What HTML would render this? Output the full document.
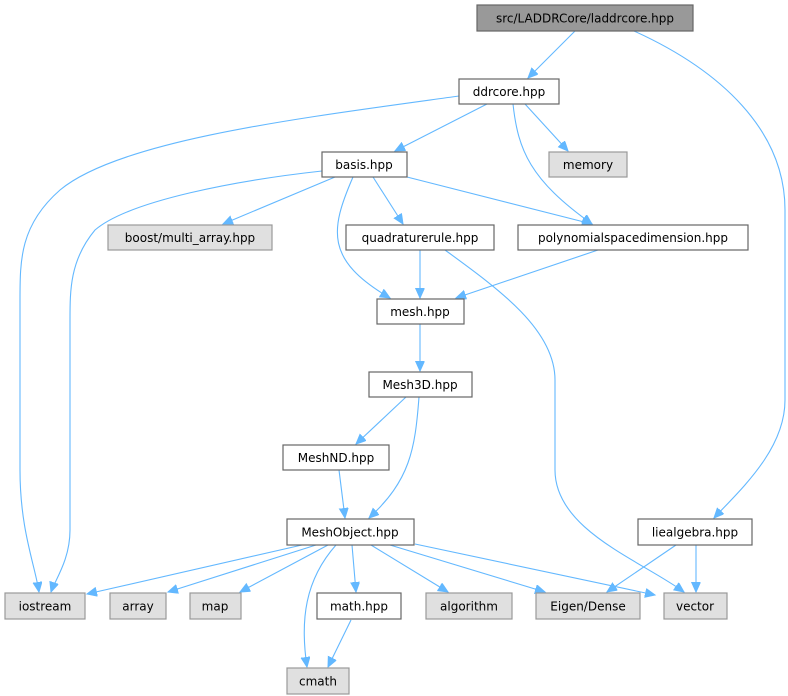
<!DOCTYPE html>
<html><head><meta charset="utf-8"><style>
html,body{margin:0;padding:0;background:#fff;}
svg{display:block;}
text{font-family:"DejaVu Sans","Liberation Sans",sans-serif;font-size:12px;fill:#000;text-anchor:middle;}
.e{fill:none;stroke:#63b8ff;stroke-width:1.1;marker-end:url(#a);}
.n{fill:#fff;stroke:#666;stroke-width:1.2;}
.g{fill:#e0e0e0;stroke:#999;stroke-width:1.2;}
</style></head><body>
<svg width="788" height="696" viewBox="0 0 788 696" xmlns="http://www.w3.org/2000/svg">
<defs><marker id="a" markerUnits="userSpaceOnUse" markerWidth="12" markerHeight="10" refX="10" refY="4.5" orient="auto"><path d="M0,0 L10,4.5 L0,9 z" fill="#63b8ff" stroke="#63b8ff"/></marker></defs>
<path class="e" d="M575,31 L528,78"/>
<path class="e" d="M634,31 C720,70 785,130 785,210 L785,400 C785,450 740,490 714,518"/>
<path class="e" d="M459,96 C300,118 120,140 60,190 C20,225 20,260 20,300 L20,470 C20,530 35,565 39,592"/>
<path class="e" d="M487,104 L395,151"/>
<path class="e" d="M525,104 L568,151"/>
<path class="e" d="M513,104 C518,150 530,180 592,224"/>
<path class="e" d="M322,171 C240,180 130,200 95,230 C70,260 70,290 70,320 L70,530 C70,560 55,580 51,592"/>
<path class="e" d="M335,177 L223,224"/>
<path class="e" d="M353,177 C330,230 325,260 390,298"/>
<path class="e" d="M373,177 L403,224"/>
<path class="e" d="M407,177 L592,224"/>
<path class="e" d="M420,250 L420,298"/>
<path class="e" d="M445,250 C500,290 555,330 555,380 L555,470 C555,530 640,560 684,592"/>
<path class="e" d="M598,250 L456,298"/>
<path class="e" d="M420,324 L420,371"/>
<path class="e" d="M406,397 L356,444"/>
<path class="e" d="M419,397 C415,450 410,480 369,518"/>
<path class="e" d="M339,470 L345,518"/>
<path class="e" d="M302,545 L87,594"/>
<path class="e" d="M316,545 L168,592"/>
<path class="e" d="M328,545 L240,592"/>
<path class="e" d="M336,545 C305,580 300,620 307,667"/>
<path class="e" d="M352,545 L356,592"/>
<path class="e" d="M371,545 L448,592"/>
<path class="e" d="M390,545 L545,592"/>
<path class="e" d="M415,544 L655,595"/>
<path class="e" d="M676,545 L607,592"/>
<path class="e" d="M696,545 L696,592"/>
<path class="e" d="M351,620 L328,667"/>

<rect x="477" y="5" width="216" height="26" fill="#999" stroke="#666" stroke-width="1.2"/><text x="585" y="22.5">src/LADDRCore/laddrcore.hpp</text>
<rect class="n" x="459" y="79" width="100" height="25"/><text x="509" y="96">ddrcore.hpp</text>
<rect class="n" x="322" y="152" width="85" height="25"/><text x="364" y="169">basis.hpp</text>
<rect class="g" x="549" y="152" width="78" height="25"/><text x="588" y="169">memory</text>
<rect class="g" x="108" y="225" width="164" height="25"/><text x="190" y="242">boost/multi_array.hpp</text>
<rect class="n" x="346" y="225" width="148" height="25"/><text x="420" y="242">quadraturerule.hpp</text>
<rect class="n" x="518" y="225" width="230" height="25"/><text x="633" y="242">polynomialspacedimension.hpp</text>
<rect class="n" x="377" y="299" width="87" height="25"/><text x="420" y="316">mesh.hpp</text>
<rect class="n" x="369" y="372" width="103" height="25"/><text x="420" y="389">Mesh3D.hpp</text>
<rect class="n" x="283" y="445" width="106" height="25"/><text x="336" y="462">MeshND.hpp</text>
<rect class="n" x="287" y="519" width="127" height="26"/><text x="350" y="536.5">MeshObject.hpp</text>
<rect class="n" x="638" y="519" width="114" height="26"/><text x="695" y="536.5">liealgebra.hpp</text>
<rect class="g" x="5" y="593" width="80" height="26"/><text x="45" y="610.5">iostream</text>
<rect class="g" x="110" y="593" width="56" height="26"/><text x="138" y="610.5">array</text>
<rect class="g" x="190" y="593" width="51" height="26"/><text x="215" y="610.5">map</text>
<rect class="n" x="317" y="593" width="84" height="26"/><text x="359" y="610.5">math.hpp</text>
<rect class="g" x="426" y="593" width="86" height="26"/><text x="469" y="610.5">algorithm</text>
<rect class="g" x="536" y="593" width="104" height="26"/><text x="588" y="610.5">Eigen/Dense</text>
<rect class="g" x="664" y="593" width="63" height="26"/><text x="695" y="610.5">vector</text>
<rect class="g" x="287" y="668" width="62" height="26"/><text x="318" y="685.5">cmath</text>
</svg>
</body></html>
